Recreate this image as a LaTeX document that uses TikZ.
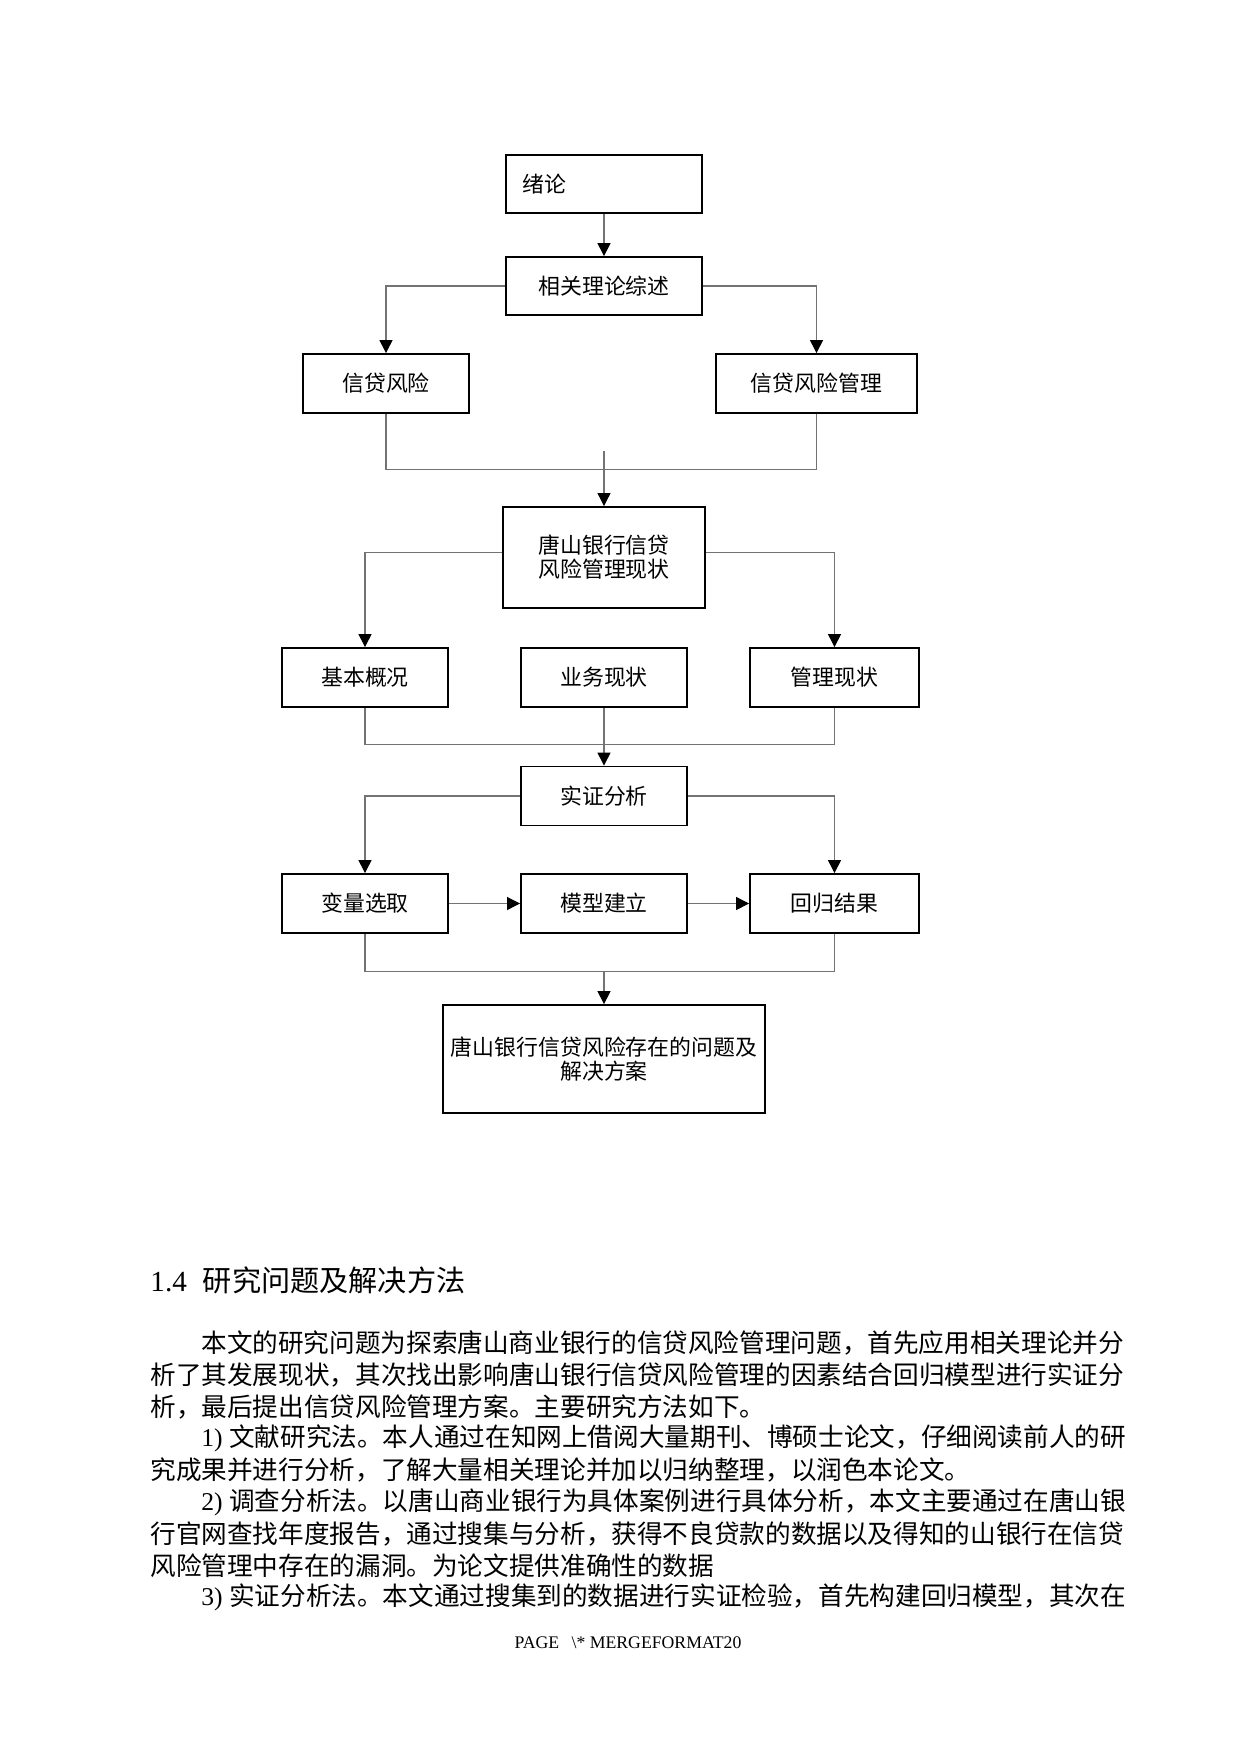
\documentclass[tikz,border=0pt]{standalone}
\usepackage{fontspec}
\setmainfont{Liberation Serif}
\newfontfamily\cjk{Noto Sans CJK SC}
\usetikzlibrary{arrows.meta}

\begin{document}
\begin{tikzpicture}[x=0.48pt,y=-0.48pt]
            \tikzstyle{every node}=[font=\cjk\fontsize{10.5pt}{11.5pt}\selectfont]
            \tikzstyle{box}=[draw, line width=0.9pt, minimum width=79.7pt, minimum height=28.3pt, inner sep=1pt, align=center]
            \tikzstyle{line}=[draw=black!55, line width=0.5pt]
            \tikzstyle{arrow}=[line, -{Triangle[length=6.2pt,width=6.2pt,color=black,fill=black]}]
            \tikzstyle{body}=[anchor=west, inner sep=0pt, font=\cjk\fontsize{12.3pt}{15pt}\selectfont]

            \fill[white] (0,0) rectangle (1240,1754);

            % flow chart
            \node[box, text width=77.8pt, inner xsep=8.2pt, minimum height=27.8pt, align=left] (intro) at (604,184) {绪论};
            \node[box, minimum width=94.1pt, minimum height=27.8pt] (theory) at (604,286) {相关理论综述};
            \node[box] (risk) at (386,383.5) {信贷风险};
            \node[box, minimum width=96.5pt] (riskmgt) at (816.5,383.5) {信贷风险管理};
            \node[box, minimum width=97pt, minimum height=48.5pt] (status) at (604,557.5) {唐山银行信贷\\风险管理现状};
            \node[box] (basic) at (365,677.5) {基本概况};
            \node[box] (business) at (604,677.5) {业务现状};
            \node[box, minimum width=81.1pt] (manage) at (834.5,677.5) {管理现状};
            \node[box] (empirical) at (604,796) {实证分析};
            \node[box] (variable) at (365,903.5) {变量选取};
            \node[box] (model) at (604,903.5) {模型建立};
            \node[box, minimum width=81.1pt] (regression) at (834.5,903.5) {回归结果};
            \node[box, minimum width=154.6pt, minimum height=51.8pt] (solution) at (604,1059) {唐山银行信贷风险存在的问题及\\解决方案};

            \coordinate (join1) at (604,451);
            \coordinate (join2) at (604,971);

            \draw[arrow] (intro) -- (theory);
            \draw[arrow] (theory.west) -| (risk.north);
            \draw[arrow] (theory.east) -| (riskmgt.north);
            \draw[line] (risk.south) -- ++(0,56) -| (riskmgt.south);
            \draw[arrow] (join1) -- (status.north);
            \draw[arrow] ([yshift=2.6pt]status.west) -| (basic.north);
            \draw[arrow] ([yshift=2.6pt]status.east) -| (manage.north);
            \draw[line] (basic.south) -- ++(0,37) -| (manage.south);
            \draw[arrow] (business) -- (empirical);
            \draw[arrow] (empirical.west) -| (variable.north);
            \draw[arrow] (empirical.east) -| (regression.north);
            \draw[arrow] (variable) -- (model);
            \draw[arrow] (model) -- (regression);
            \draw[line] (variable.south) -- ++(0,38) -| (regression.south);
            \draw[arrow] (join2) -- (solution.north);

            % text below the chart
            \node[anchor=west, inner sep=0pt, font=\fontsize{14pt}{16pt}\selectfont] (heading) at (150,1280) {1.4\hspace{0.55em}{\cjk 研究问题及解决方法}};
            \node[body] (l1) at (201,1343) {本文的研究问题为探索唐山商业银行的信贷风险管理问题，首先应用相关理论并分};
            \node[body] (l2) at (150,1374.8) {析了其发展现状，其次找出影响唐山银行信贷风险管理的因素结合回归模型进行实证分};
            \node[body] (l3) at (150,1406.6) {析，最后提出信贷风险管理方案。主要研究方法如下。};
            \node[body] (l4) at (201,1438.4) {{\rmfamily 1) }文献研究法。本人通过在知网上借阅大量期刊、博硕士论文，仔细阅读前人的研};
            \node[body] (l5) at (150,1470.2) {究成果并进行分析，了解大量相关理论并加以归纳整理，以润色本论文。};
            \node[body] (l6) at (201,1502) {{\rmfamily 2) }调查分析法。以唐山商业银行为具体案例进行具体分析，本文主要通过在唐山银};
            \node[body] (l7) at (150,1533.8) {行官网查找年度报告，通过搜集与分析，获得不良贷款的数据以及得知的山银行在信贷};
            \node[body] (l8) at (150,1565.6) {风险管理中存在的漏洞。为论文提供准确性的数据};
            \node[body] (l9) at (201,1597.4) {{\rmfamily 3) }实证分析法。本文通过搜集到的数据进行实证检验，首先构建回归模型，其次在};
            \node[inner sep=0pt, font=\fontsize{8.5pt}{10pt}\selectfont] (footer) at (628,1643) {PAGE\hspace{0.7em}\textbackslash* MERGEFORMAT20};
\end{tikzpicture}
\end{document}
